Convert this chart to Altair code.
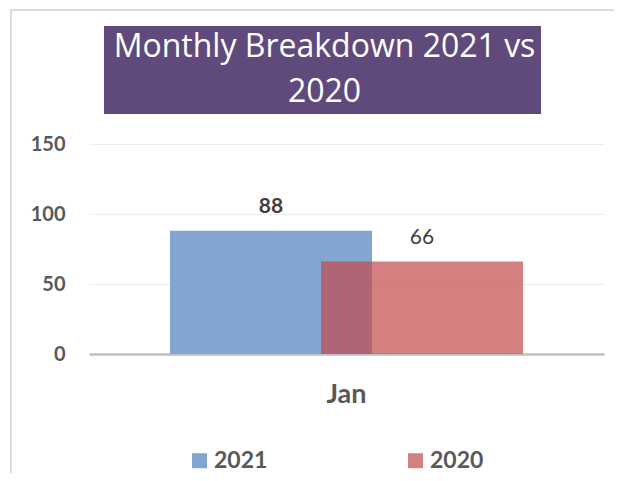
import altair as alt
import pandas as pd

# ---- data ----
months = ["Jan", "Jan"]
years = ["2021", "2020"]
values = [88, 66]
y_ticks = [0, 50, 100, 150]
title_lines = ["Monthly Breakdown 2021 vs", "2020"]

df = pd.DataFrame({"month": months, "year": years, "value": values})

FONT = "Lato"
GREY = "#595959"
DARK = "#404040"
BLUE = "#82A6CF"
RED = "rgba(194,74,75,0.7)"
PURPLE = "#604A7B"

deco = alt.Data(values=[{"k": 1}])

x_enc = alt.X("month:N", title=None, scale=alt.Scale(paddingInner=0, paddingOuter=0),
              axis=alt.Axis(labelAngle=0))
y_enc = alt.Y("value:Q", title=None, scale=alt.Scale(domain=[0, 150], nice=False),
              axis=alt.Axis(values=y_ticks))
color_enc = alt.Color(
    "year:N",
    scale=alt.Scale(domain=years, range=[BLUE, RED]),
    legend=alt.Legend(
        title=None, orient="none", legendX=99, legendY=305,
        direction="horizontal", symbolType="square", symbolSize=225,
        symbolStrokeWidth=0, labelFont=FONT, labelFontSize=23,
        labelFontWeight="bold", labelColor=GREY, labelOffset=3,
        columnPadding=136, padding=0,
    ),
)

base = alt.Chart(df)

border_left = alt.Chart(deco).mark_rule(color="#DCDCDC", strokeWidth=2).encode(
    x=alt.value(-78), y=alt.value(-134), y2=alt.value(340))
border_top = alt.Chart(deco).mark_rule(color="#DCDCDC", strokeWidth=2).encode(
    x=alt.value(-79), x2=alt.value(540), y=alt.value(-134))
title_box = alt.Chart(deco).mark_rect(color=PURPLE).encode(
    x=alt.value(15), x2=alt.value(452), y=alt.value(-118), y2=alt.value(-30))
title_text = alt.Chart(deco).mark_text(
    font="Open Sans", fontSize=32, fontWeight="normal", color="white",
    align="center", baseline="alphabetic", lineHeight=45,
).encode(x=alt.value(235.5), y=alt.value(-87), text=alt.value(title_lines))

bar_2021 = base.transform_filter(alt.datum.year == "2021").mark_bar(
    width=202, xOffset=-75.5).encode(x=x_enc, y=y_enc, color=color_enc)
bar_2020 = base.transform_filter(alt.datum.year == "2020").mark_bar(
    width=202, xOffset=75.5).encode(x=x_enc, y=y_enc, color=color_enc)

lbl_2021 = base.transform_filter(alt.datum.year == "2021").mark_text(
    xOffset=-75.5, dy=-18, baseline="alphabetic", font=FONT, fontSize=21,
    fontWeight="bold", color=DARK).encode(x=x_enc, y=y_enc, text="value:Q")
lbl_2020 = base.transform_filter(alt.datum.year == "2020").mark_text(
    xOffset=75.5, dy=-18, baseline="alphabetic", font=FONT, fontSize=21,
    fontWeight="normal", color=DARK).encode(x=x_enc, y=y_enc, text="value:Q")

chart = alt.layer(
    border_left, border_top, title_box, title_text,
    bar_2021, bar_2020, lbl_2021, lbl_2020
).properties(
    width=515, height=210,
    padding={"left": 81, "top": 136, "right": 10, "bottom": 119},
    autosize="none",
).configure_view(stroke=None).configure_axisX(
    labelAngle=0, labelFont=FONT, labelFontSize=27, labelFontWeight="bold",
    labelColor=GREY, labelPadding=27, ticks=False, tickSize=0,
    domainColor="#BFBFBF", domainWidth=2.5, grid=False,
).configure_axisY(
    labelFont=FONT, labelFontSize=20, labelFontWeight="bold",
    labelColor=GREY, labelPadding=24, ticks=False, tickSize=0, domain=False,
    gridColor="#EEEEEE", gridWidth=1,
)

chart.save("out.html", embed_options={"renderer": "svg", "actions": False})
